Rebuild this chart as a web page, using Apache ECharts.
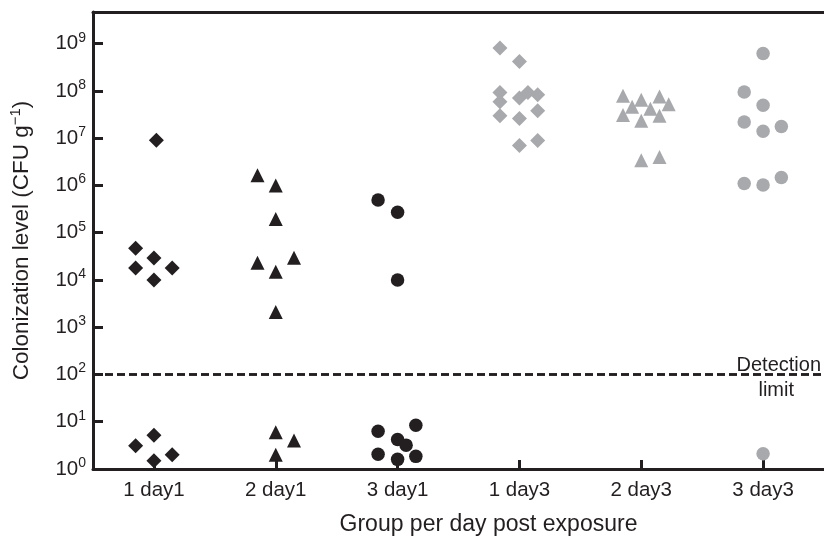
<!DOCTYPE html>
<html><head><meta charset="utf-8">
<script src="https://cdn.jsdelivr.net/npm/echarts@6/dist/echarts.min.js"></script>
<style>html,body{margin:0;padding:0;background:#fff}#c{width:824px;height:541px}</style>
</head><body><div id="c"></div>
<script>
const categories = ['1 day1','2 day1','3 day1','1 day3','2 day3','3 day3'];
const yTickValues = [1,10,100,1e3,1e4,1e5,1e6,1e7,1e8,1e9];
const detectionLimit = 100;

const g1Values  = [9e6, 4.7e4, 2.9e4, 1.8e4, 1.8e4, 1.0e4, 3.1, 5.2, 2.0, 1.5];
const g1Offsets = [0.02, -0.15, 0, -0.15, 0.15, 0, -0.15, 0, 0.15, 0];
const g2Values  = [1.65e6, 1.0e6, 1.95e5, 2.3e4, 2.95e4, 1.5e4, 2.1e3, 6.0, 4.0, 2.0];
const g2Offsets = [-0.15, 0, 0, -0.15, 0.15, 0, 0, 0, 0.15, 0];
const g3Values  = [4.9e5, 2.7e5, 1.0e4, 6.3, 4.2, 3.2, 8.4, 2.05, 1.6, 1.85];
const g3Offsets = [-0.16, 0, 0, -0.16, 0, 0.07, 0.15, -0.16, 0, 0.15];
const g4Values  = [8.1e8, 4.2e8, 9.3e7, 5.9e7, 7.1e7, 9.3e7, 8.3e7, 3.0e7, 3.8e7, 2.6e7, 7.0e6, 8.9e6];
const g4Offsets = [-0.16, 0, -0.16, -0.16, 0, 0.07, 0.15, -0.16, 0.15, 0, 0, 0.15];
const g5Values  = [7.9e7, 6.5e7, 7.6e7, 4.6e7, 5.2e7, 3.1e7, 4.2e7, 2.35e7, 3.0e7, 3.4e6, 4.0e6];
const g5Offsets = [-0.15, 0, 0.15, -0.075, 0.225, -0.15, 0.075, 0, 0.15, 0, 0.15];
const g6Values  = [6.2e8, 9.5e7, 5.0e7, 2.2e7, 1.4e7, 1.76e7, 1.1e6, 1.02e6, 1.48e6, 2.1];
const g6Offsets = [0, -0.155, 0, -0.155, 0, 0.15, -0.155, 0, 0.15, 0];

const groups = [
  {v: g1Values, o: g1Offsets, symbol: 'diamond', size: 15, color: '#231f20'},
  {v: g2Values, o: g2Offsets, symbol: 'triangle', size: 14, color: '#231f20'},
  {v: g3Values, o: g3Offsets, symbol: 'circle', size: 13.5, color: '#231f20'},
  {v: g4Values, o: g4Offsets, symbol: 'diamond', size: 15, color: '#a7a9ac'},
  {v: g5Values, o: g5Offsets, symbol: 'triangle', size: 14, color: '#a7a9ac'},
  {v: g6Values, o: g6Offsets, symbol: 'circle', size: 13.5, color: '#a7a9ac'}
];

const FONT = "'Liberation Sans', Arial, Helvetica, sans-serif";
const INK = '#231f20';

const series = groups.map((g, i) => ({
  type: 'scatter',
  name: categories[i],
  xAxisIndex: 1,
  yAxisIndex: 0,
  symbol: g.symbol,
  symbolSize: g.size,
  itemStyle: {color: g.color, opacity: 1},
  data: g.v.map((val, k) => [i + g.o[k], val]),
  z: 5
}));

series.push({
  type: 'scatter', xAxisIndex: 1, yAxisIndex: 0, data: [], silent: true,
  markLine: {
    silent: true, symbol: ['none','none'],
    lineStyle: {type: [8, 4], width: 2.5, color: INK},
    data: [
      {yAxis: detectionLimit, label: {show: true, position: 'insideEndTop', formatter: 'Detection', distance: [3, -1], color: INK, fontSize: 20, fontFamily: FONT}},
      {yAxis: detectionLimit, label: {show: true, position: 'insideEndBottom', formatter: 'limit', distance: [30, 6], color: INK, fontSize: 20, fontFamily: FONT}}
    ]
  }
});

const chart = echarts.init(document.getElementById('c'));
chart.setOption({
  animation: false,
  backgroundColor: '#fff',
  grid: {left: 90, right: -8, top: 12, bottom: 68, containLabel: false},
  xAxis: [
    {
      type: 'category', data: categories, position: 'bottom',
      boundaryGap: true,
      axisLine: {onZero: false, lineStyle: {color: INK, width: 3}},
      axisTick: {show: true, inside: true, alignWithLabel: true, length: 9, lineStyle: {color: INK, width: 3}},
      axisLabel: {color: INK, fontSize: 20.5, fontFamily: FONT, margin: 11},
      splitLine: {show: false},
      name: 'Group per day post exposure', nameLocation: 'middle', nameGap: 44,
      nameTextStyle: {color: INK, fontSize: 23, fontFamily: FONT, padding: [0, 0, 0, 60]}
    },
    {
      type: 'value', position: 'top', min: -0.5, max: 5.5,
      axisLine: {show: true, onZero: false, lineStyle: {color: INK, width: 3}},
      axisTick: {show: false}, axisLabel: {show: false}, splitLine: {show: false}
    }
  ],
  yAxis: [{
    type: 'log', logBase: 10, min: 1, max: 4.68e9, position: 'left',
    axisLine: {show: true, onZero: false, lineStyle: {color: INK, width: 3}},
    axisTick: {show: true, inside: true, length: 10, lineStyle: {color: INK, width: 3}, customValues: yTickValues},
    axisLabel: {
      customValues: yTickValues, margin: 7,
      formatter: function (v) { return '{b|10}{s|' + Math.round(Math.log10(v)) + '}'; },
      rich: {
        b: {fontSize: 20.5, fontFamily: FONT, color: INK},
        s: {fontSize: 14, fontFamily: FONT, color: INK, padding: [0, 0, 12, 0]}
      }
    },
    splitLine: {show: false}, minorTick: {show: false},
    name: 'Colonization level (CFU g{s|−1})', nameLocation: 'middle', nameGap: 57,
    nameTextStyle: {
      color: INK, fontSize: 22.5, fontFamily: FONT,
      rich: {s: {fontSize: 15, fontFamily: FONT, color: INK, padding: [0, 0, 13, 0]}}
    }
  }],
  series: series
});
</script>
</body></html>
